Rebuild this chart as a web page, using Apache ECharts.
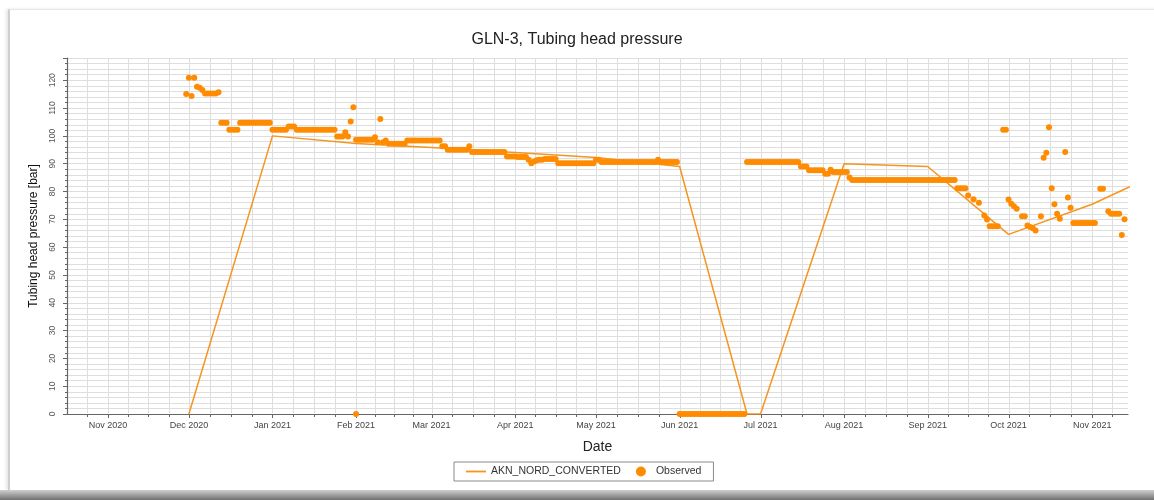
<!DOCTYPE html>
<html>
<head>
<meta charset="utf-8">
<script src="https://cdn.jsdelivr.net/npm/echarts@6/dist/echarts.min.js"></script>
<style>
  html, body { margin: 0; padding: 0; width: 1154px; height: 500px; overflow: hidden; background: #fff; }
  #frame { position: absolute; left: 8px; top: 9px; width: 1160px; height: 480px;
           border-left: 2px solid #cfcfcf; border-top: 1px solid #e6e6e6;
           box-shadow: -2px 0 3px rgba(0,0,0,0.10); }
  #band { position: absolute; left: 0; top: 490px; width: 1154px; height: 10px;
          background: linear-gradient(#cfcfcf, #707070); }
  #chart { position: absolute; left: 0; top: 0; width: 1154px; height: 500px; }
</style>
</head>
<body>
<div id="frame"></div>
<div id="band"></div>
<div id="chart"></div>
<script>
// Simulated tubing head pressure (AKN_NORD_CONVERTED), monthly points
const simDates = ['2020-12-01', '2021-01-01', '2021-02-01', '2021-03-01', '2021-04-01', '2021-05-01',
                  '2021-06-01', '2021-06-26', '2021-07-01', '2021-08-01', '2021-09-01', '2021-10-01',
                  '2021-11-01', '2021-12-01'];
const simValues = [0, 100, 97.3, 95.8, 94.0, 92.2, 89.0, 0, 0, 90.0, 89.0, 64.6, 75.4, 89.0];

// Observed daily readings, as runs of equal value: [first day, last day, bar]
const observedRuns = [
  ['2020-11-30', '2020-11-30', 115.1],
  ['2020-12-01', '2020-12-01', 120.9],
  ['2020-12-02', '2020-12-02', 114.3],
  ['2020-12-03', '2020-12-03', 120.9],
  ['2020-12-04', '2020-12-04', 117.7],
  ['2020-12-05', '2020-12-05', 117.3],
  ['2020-12-06', '2020-12-06', 116.5],
  ['2020-12-07', '2020-12-11', 115.2],
  ['2020-12-12', '2020-12-12', 115.7],
  ['2020-12-13', '2020-12-15', 104.7],
  ['2020-12-16', '2020-12-19', 102.2],
  ['2020-12-20', '2020-12-31', 104.7],
  ['2021-01-01', '2021-01-06', 102.2],
  ['2021-01-07', '2021-01-09', 103.4],
  ['2021-01-10', '2021-01-24', 102.2],
  ['2021-01-25', '2021-01-27', 99.8],
  ['2021-01-28', '2021-01-28', 101.3],
  ['2021-01-29', '2021-01-29', 99.8],
  ['2021-01-30', '2021-01-30', 105.2],
  ['2021-01-31', '2021-01-31', 110.3],
  ['2021-02-01', '2021-02-01', 0],
  ['2021-02-01', '2021-02-07', 98.6],
  ['2021-02-08', '2021-02-08', 99.5],
  ['2021-02-09', '2021-02-09', 97.7],
  ['2021-02-10', '2021-02-10', 106.1],
  ['2021-02-11', '2021-02-11', 97.7],
  ['2021-02-12', '2021-02-12', 98.3],
  ['2021-02-13', '2021-02-19', 97.2],
  ['2021-02-20', '2021-03-04', 98.3],
  ['2021-03-05', '2021-03-06', 96.3],
  ['2021-03-07', '2021-03-14', 95.0],
  ['2021-03-15', '2021-03-15', 96.3],
  ['2021-03-16', '2021-03-28', 94.2],
  ['2021-03-29', '2021-04-01', 92.6],
  ['2021-04-02', '2021-04-05', 92.4],
  ['2021-04-06', '2021-04-06', 91.4],
  ['2021-04-07', '2021-04-07', 90.2],
  ['2021-04-08', '2021-04-08', 90.8],
  ['2021-04-09', '2021-04-09', 91.2],
  ['2021-04-10', '2021-04-11', 91.4],
  ['2021-04-12', '2021-04-16', 91.7],
  ['2021-04-17', '2021-04-30', 90.2],
  ['2021-05-01', '2021-05-02', 91.4],
  ['2021-05-03', '2021-05-23', 90.6],
  ['2021-05-24', '2021-05-24', 91.4],
  ['2021-05-25', '2021-05-31', 90.6],
  ['2021-06-01', '2021-06-25', 0],
  ['2021-06-26', '2021-07-15', 90.6],
  ['2021-07-16', '2021-07-18', 89.0],
  ['2021-07-19', '2021-07-24', 87.6],
  ['2021-07-25', '2021-07-26', 86.4],
  ['2021-07-27', '2021-07-27', 87.8],
  ['2021-07-28', '2021-08-02', 87.0],
  ['2021-08-03', '2021-08-03', 85.0],
  ['2021-08-04', '2021-09-11', 84.1],
  ['2021-09-12', '2021-09-15', 81.2],
  ['2021-09-16', '2021-09-16', 78.6],
  ['2021-09-18', '2021-09-18', 77.2],
  ['2021-09-20', '2021-09-20', 76.0],
  ['2021-09-22', '2021-09-22', 71.4],
  ['2021-09-23', '2021-09-23', 69.9],
  ['2021-09-24', '2021-09-27', 67.5],
  ['2021-09-29', '2021-09-30', 102.2],
  ['2021-10-01', '2021-10-01', 77.1],
  ['2021-10-02', '2021-10-02', 75.6],
  ['2021-10-03', '2021-10-03', 74.7],
  ['2021-10-04', '2021-10-04', 73.8],
  ['2021-10-06', '2021-10-07', 71.1],
  ['2021-10-08', '2021-10-08', 67.8],
  ['2021-10-09', '2021-10-09', 67.2],
  ['2021-10-10', '2021-10-10', 66.8],
  ['2021-10-11', '2021-10-11', 66.0],
  ['2021-10-13', '2021-10-13', 71.1],
  ['2021-10-14', '2021-10-14', 92.1],
  ['2021-10-15', '2021-10-15', 93.9],
  ['2021-10-16', '2021-10-16', 103.1],
  ['2021-10-17', '2021-10-17', 81.2],
  ['2021-10-18', '2021-10-18', 75.4],
  ['2021-10-19', '2021-10-19', 72.0],
  ['2021-10-20', '2021-10-20', 70.2],
  ['2021-10-22', '2021-10-22', 94.2],
  ['2021-10-23', '2021-10-23', 77.8],
  ['2021-10-24', '2021-10-24', 74.2],
  ['2021-10-25', '2021-11-02', 68.7],
  ['2021-11-04', '2021-11-05', 81.0],
  ['2021-11-07', '2021-11-07', 72.9],
  ['2021-11-08', '2021-11-11', 72.0],
  ['2021-11-12', '2021-11-12', 64.4],
  ['2021-11-13', '2021-11-13', 70.0]
];

// Month boundaries used for the date grid (each month split into quarters)
const gridMonths = ['2020-10-01', '2020-11-01', '2020-12-01', '2021-01-01', '2021-02-01', '2021-03-01',
                    '2021-04-01', '2021-05-01', '2021-06-01', '2021-07-01', '2021-08-01', '2021-09-01',
                    '2021-10-01', '2021-11-01', '2021-12-01'];

const monthNames = ['Jan', 'Feb', 'Mar', 'Apr', 'May', 'Jun', 'Jul', 'Aug', 'Sep', 'Oct', 'Nov', 'Dec'];
const axisStart = Date.UTC(2020, 9, 16, 19);
const axisEnd = Date.UTC(2021, 10, 14, 7);
const yMax = 128;
const DAY = 86400000;

function utc(s) {
  const p = s.split('-').map(Number);
  return Date.UTC(p[0], p[1] - 1, p[2]);
}

const simData = simDates.map((d, i) => [utc(d), simValues[i]]);
const observedData = [];
observedRuns.forEach(([a, b, v]) => {
  for (let t = utc(a); t <= utc(b); t += DAY) observedData.push([t, v]);
});

// quarter-month grid positions: [time, isMonthStart]
const dateGrid = [];
for (let i = 0; i < gridMonths.length - 1; i++) {
  const a = utc(gridMonths[i]), b = utc(gridMonths[i + 1]);
  for (let k = 0; k < 4; k++) {
    const t = a + (b - a) * k / 4;
    if (t > axisStart && t < axisEnd) dateGrid.push([t, k === 0 ? 1 : 0]);
  }
}

const gridColor = '#dedede';
const axisColor = '#666';
const font = 'Liberation Sans, Arial, sans-serif';

const chart = echarts.init(document.getElementById('chart'), null, { renderer: 'canvas' });
chart.setOption({
  useUTC: true,
  animation: false,
  backgroundColor: 'transparent',
  title: {
    text: 'GLN-3, Tubing head pressure',
    left: 'center',
    top: 27,
    textStyle: { fontFamily: font, fontSize: 16, fontWeight: 'normal', color: '#222' }
  },
  legend: {
    left: 454,
    top: 462,
    padding: [4, 12],
    itemWidth: 20,
    itemHeight: 10,
    itemGap: 15,
    borderColor: '#8a8a8a',
    borderWidth: 1,
    backgroundColor: '#fff',
    textStyle: { fontFamily: font, fontSize: 10.5, color: '#333' },
    data: [
      { name: 'AKN_NORD_CONVERTED', icon: 'path://M0,0 L22,0 L22,2 L0,2 Z' },
      { name: 'Observed', icon: 'circle' }
    ]
  },
  grid: { left: 67, right: 26, top: 58, bottom: 86 },
  xAxis: {
    type: 'time',
    min: axisStart,
    max: axisEnd,
    splitNumber: 13,
    minInterval: 28 * DAY,
    maxInterval: 31 * DAY,
    name: 'Date',
    nameLocation: 'middle',
    nameGap: 26,
    nameTextStyle: { fontFamily: font, fontSize: 14, color: '#222' },
    axisLine: { lineStyle: { color: axisColor, width: 1.2 } },
    axisTick: { show: false },
    splitLine: { show: false },
    axisLabel: {
      showMinLabel: false,
      showMaxLabel: false,
      margin: 7,
      fontFamily: font,
      fontSize: 9,
      color: '#444',
      formatter: (v) => {
        const d = new Date(v);
        return monthNames[d.getUTCMonth()] + ' ' + d.getUTCFullYear();
      }
    }
  },
  yAxis: [
    {
      type: 'value',
      min: 0,
      max: yMax,
      interval: 10,
      name: 'Tubing head pressure [bar]',
      nameLocation: 'middle',
      nameGap: 27,
      nameTextStyle: { fontFamily: font, fontSize: 12, color: '#111' },
      axisLine: { show: true, lineStyle: { color: axisColor, width: 1.2 } },
      axisTick: { show: true, length: 4, lineStyle: { color: axisColor } },
      minorTick: { show: true, splitNumber: 5, length: 2, lineStyle: { color: axisColor } },
      splitLine: { show: false },
      axisLabel: {
        showMaxLabel: false,
        rotate: 90,
        margin: 10,
        fontFamily: font,
        fontSize: 8.5,
        color: '#555'
      }
    },
    {
      type: 'value',
      min: 0,
      max: yMax,
      interval: 2,
      axisLine: { show: false },
      axisTick: { show: false },
      axisLabel: { show: false },
      splitLine: { show: true, lineStyle: { color: gridColor, width: 1 } }
    }
  ],
  series: [
    {
      // vertical date grid lines with their ticks under the axis
      type: 'custom',
      silent: true,
      z: 1,
      data: dateGrid,
      encode: { x: 0 },
      renderItem: (params, api) => {
        const t = api.value(0);
        const major = api.value(1) === 1;
        const bottom = api.coord([t, 0]);
        const top = api.coord([t, yMax]);
        const x = Math.round(bottom[0]) + 0.5;
        return {
          type: 'group',
          children: [
            { type: 'line', shape: { x1: x, y1: top[1], x2: x, y2: bottom[1] - 1 },
              style: { stroke: gridColor, lineWidth: 1 } },
            { type: 'line', shape: { x1: x, y1: bottom[1], x2: x, y2: bottom[1] + (major ? 4 : 3) },
              style: { stroke: axisColor, lineWidth: 1 } }
          ]
        };
      }
    },
    {
      name: 'AKN_NORD_CONVERTED',
      type: 'line',
      yAxisIndex: 0,
      data: simData,
      symbol: 'none',
      lineStyle: { color: '#f7941d', width: 1.5 },
      itemStyle: { color: '#f7941d' },
      z: 3
    },
    {
      name: 'Observed',
      type: 'scatter',
      yAxisIndex: 0,
      data: observedData,
      symbolSize: 6,
      itemStyle: { color: '#ff8c00', opacity: 1 },
      z: 4
    }
  ]
});
</script>
</body>
</html>
